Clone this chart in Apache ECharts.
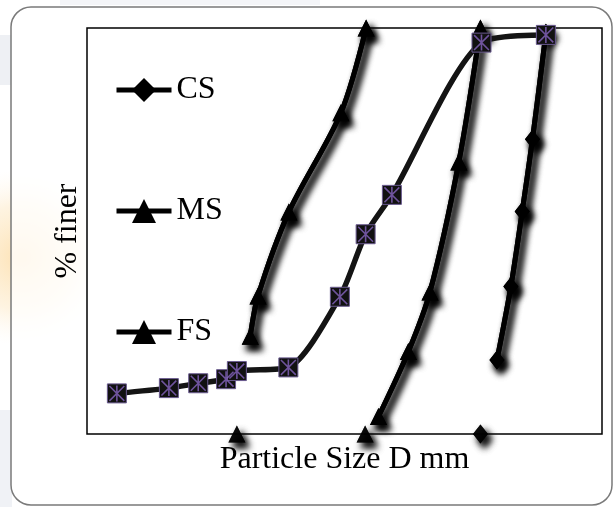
<!DOCTYPE html>
<html>
<head>
<meta charset="utf-8">
<script src="https://cdn.jsdelivr.net/npm/echarts@6/dist/echarts.min.js"></script>
<style>html,body{margin:0;padding:0;background:#fff}#c{width:615px;height:507px}</style>
</head>
<body>
<div id="c"></div>
<script>
// ---- data (x: relative particle-size position 0-100, y: % finer) ----
const SERIES_NAMES = ['CS', 'MS', 'FS'];
const CS_X = [79.6, 82.3, 84.5, 86.5, 89.1];
const CS_Y = [18.2, 36.3, 54.8, 72.6, 98.7];
const MS_X = [56.6, 62.4, 66.6, 72.2, 76.4];
const MS_Y = [4.3, 20.3, 35.0, 67.0, 100];
const FS_X = [31.7, 33.2, 39.2, 49.3, 54.2];
const FS_Y = [24.1, 34.0, 54.7, 79.1, 100];
// detached zero points
const CS_ZERO_X = [76.4];
const MS_ZERO_X = [54.0];
const FS_ZERO_X = [29.1];
const ZERO_Y = [0];
// combined curve (asterisk-square markers)
const MIX_X = [5.8, 15.9, 21.6, 27.0, 29.1, 39.1, 49.1, 54.1, 59.2, 76.6, 89.1];
const MIX_Y = [10.0, 11.3, 12.5, 13.5, 15.5, 16.4, 33.8, 49.2, 58.9, 96.4, 98.3];
const X_TITLE = 'Particle Size D mm';
const Y_TITLE = '% finer';

const zip = (xs, ys) => xs.map((x, i) => [x, ys[i]]);
const zeros = xs => xs.map((x, i) => [x, ZERO_Y[0]]);

const FONT = 'Liberation Serif';
const shadow = { shadowColor: 'rgba(0,0,0,1)', shadowBlur: 7, shadowOffsetX: 4, shadowOffsetY: 5 };
const ASTER = 'path://M45 0L55 0L55 100L45 100Z M0 7L7 0L100 93L93 100Z M93 0L100 7L7 100L0 93Z';

function mainLine(name, xs, ys, symbol, size, z) {
  return {
    name, type: 'line', data: zip(xs, ys), smooth: 0.3,
    symbol, symbolSize: size, showSymbol: true,
    lineStyle: Object.assign({ color: '#000', width: 5 }, shadow),
    itemStyle: Object.assign({ color: '#000' }, shadow),
    z: z
  };
}
function zeroPts(name, xs, symbol, size, z) {
  return {
    name, type: 'scatter', data: zeros(xs), symbol, symbolSize: size,
    itemStyle: Object.assign({ color: '#000' }, shadow), z: z
  };
}

const series = [];
// a lower copy of each black series deepens its soft drop shadow
[2, 3].forEach(z => {
  const sfx = z === 2 ? '_shadow' : '';
  series.push(
    mainLine('CS' + sfx, CS_X, CS_Y, 'diamond', [15, 19], z),
    mainLine('MS' + sfx, MS_X, MS_Y, 'triangle', 17, z),
    mainLine('FS' + sfx, FS_X, FS_Y, 'triangle', 17, z),
    zeroPts('CS0' + sfx, CS_ZERO_X, 'diamond', [15, 19], z),
    zeroPts('MS0' + sfx, MS_ZERO_X, 'triangle', 17, z),
    zeroPts('FS0' + sfx, FS_ZERO_X, 'triangle', 17, z)
  );
});
series.push(
  {
    name: 'Mix', type: 'line', data: zip(MIX_X, MIX_Y), smooth: 0.25,
    symbol: 'rect', symbolSize: 19, showSymbol: true,
    lineStyle: { color: '#141414', width: 5.5 },
    itemStyle: { color: '#111', borderColor: '#6a5a90', borderWidth: 1 },
    z: 5
  },
  {
    name: 'MixMark', type: 'scatter', data: zip(MIX_X, MIX_Y),
    symbol: ASTER, symbolSize: 16, itemStyle: { color: '#8664bf' }, z: 6, silent: true
  }
);

const chart = echarts.init(document.getElementById('c'), null, { renderer: 'canvas' });
chart.setOption({
  animation: false,
  backgroundColor: '#fff',
  graphic: [
    { type: 'rect', z: -20, shape: { x: 0, y: 160, width: 110, height: 195 },
      style: { fill: new echarts.graphic.RadialGradient(0.2, 0.5, 0.8, [
        { offset: 0, color: 'rgba(252,218,160,0.8)' },
        { offset: 0.6, color: 'rgba(253,232,195,0.5)' },
        { offset: 1, color: 'rgba(255,245,230,0)' }]) } },
    { type: 'rect', z: -20, shape: { x: 60, y: 0, width: 260, height: 5 },
      style: { fill: 'rgba(210,216,226,0.25)' } },
    { type: 'rect', z: -20, shape: { x: 0, y: 35, width: 12, height: 50 },
      style: { fill: 'rgba(205,212,224,0.35)' } },
    { type: 'rect', z: -20, shape: { x: 0, y: 410, width: 12, height: 97 },
      style: { fill: 'rgba(205,212,224,0.3)' } },
    { type: 'rect', z: -15, shape: { x: 11, y: 7, width: 601, height: 498, r: 20 },
      style: { fill: 'rgba(255,255,255,0.78)', stroke: '#7a7a7a', lineWidth: 1.5 } }
  ],
  grid: { left: 87, top: 28, width: 515, height: 406, show: true,
    borderColor: '#000', borderWidth: 1.5, backgroundColor: '#fff' },
  xAxis: {
    type: 'value', min: 0, max: 100,
    axisLine: { show: false }, axisTick: { show: false }, axisLabel: { show: false }, splitLine: { show: false },
    name: X_TITLE, nameLocation: 'middle', nameGap: 10,
    nameTextStyle: { fontFamily: FONT, fontSize: 32, color: '#000' }
  },
  yAxis: {
    type: 'value', min: 0, max: 100,
    axisLine: { show: false }, axisTick: { show: false }, axisLabel: { show: false }, splitLine: { show: false },
    name: Y_TITLE, nameLocation: 'middle', nameGap: 3, nameRotate: 90,
    nameTextStyle: { fontFamily: FONT, fontSize: 32, color: '#000' }
  },
  legend: {
    data: SERIES_NAMES, orient: 'vertical', left: 114, top: 74, itemGap: 89,
    itemWidth: 55, itemHeight: 30, padding: 0,
    textStyle: { fontFamily: FONT, fontSize: 32, color: '#000' },
    lineStyle: { width: 5, shadowBlur: 0, shadowOffsetX: 0, shadowOffsetY: 0, shadowColor: 'rgba(0,0,0,0)' },
    itemStyle: { shadowBlur: 0, shadowOffsetX: 0, shadowOffsetY: 0, shadowColor: 'rgba(0,0,0,0)' }
  },
  series: series
});
</script>
</body>
</html>
